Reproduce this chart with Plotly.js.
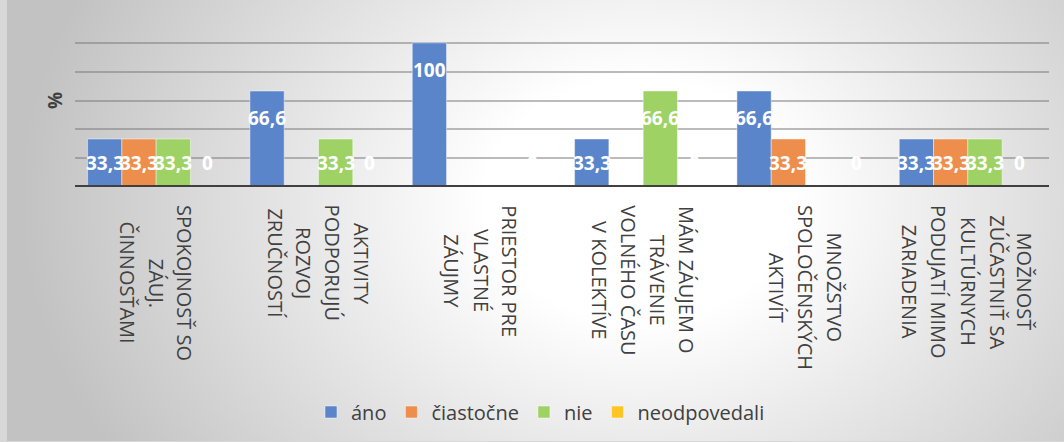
<!DOCTYPE html>
<html>
<head>
<meta charset="utf-8">
<script src="https://cdn.plot.ly/plotly-3.0.1.min.js"></script>
<style>
  html, body { margin: 0; padding: 0; width: 1064px; height: 442px; overflow: hidden; background: #d8d8d8; }
  #bg { position: absolute; left: 7px; top: 0; width: 1057px; height: 441px;
        background: radial-gradient(ellipse 620px 480px at 633px 200px, #ffffff 0%, #ffffff 25%, #c2c2c2 100%); }
  #chart { position: absolute; left: 0; top: 0; width: 1064px; height: 442px; }
</style>
</head>
<body>
<div id="bg"></div>
<div id="chart"></div>
<script>
// Category labels, one entry per printed line
const categoryLines = [
  ['SPOKOJNOSŤ SO', 'ZÁUJ.', 'ČINNOSŤAMI'],
  ['AKTIVITY', 'PODPORUJÚ', 'ROZVOJ', 'ZRUČNOSTÍ'],
  ['PRIESTOR PRE', 'VLASTNÉ', 'ZÁUJMY'],
  ['MÁM ZÁUJEM O', 'TRÁVENIE', 'VOLNÉHO ČASU', 'V KOLEKTÍVE'],
  ['MNOŽSTVO', 'SPOLOČENSKÝCH', 'AKTIVÍT'],
  ['MOŽNOSŤ', 'ZÚČASTNIŤ SA', 'KULTÚRNYCH', 'PODUJATÍ MIMO', 'ZARIADENIA']
];
const categories = categoryLines.map(lines => lines.join(' '));

// Answers in percent (null = no answer recorded)
const ano          = [33.3, 66.6, 100, 33.3, 66.6, 33.3];
const ciastocne    = [33.3, null, null, null, 33.3, 33.3];
const nie          = [33.3, 33.3, null, 66.6, null, 33.3];
const neodpovedali = [0, 0, 0, 0, 0, 0];

const seriesNames  = ['áno', 'čiastočne', 'nie', 'neodpovedali'];
const seriesValues = [ano, ciastocne, nie, neodpovedali];
const seriesColors = ['#5B85CA', '#EE8E4D', '#9ED265', '#FFC526'];

const yTicks = [0, 20, 40, 60, 80, 100, 120];

// Layout geometry
const W = 1064, H = 442;
const margin = { l: 75, r: 15, t: 14, b: 255 };
const plotW = W - margin.l - margin.r;
const plotH = H - margin.t - margin.b;
const BARGAP = 0.155;
const barPx = plotW / categories.length * (1 - BARGAP) / seriesValues.length;

const FONT = 'Open Sans, Noto Sans, sans-serif';
const TEXT_GRAY = '#404040';

// Data labels sit inside the bar end; short bars keep them at a common floor level
const LABEL_DROP = 18.5;
const LABEL_FLOOR = 16.7;
const labelY = v => Math.max(v - LABEL_DROP, LABEL_FLOOR);
const fmt = v => String(v).replace('.', ',');

const traces = seriesValues.map((vals, s) => ({
  type: 'bar',
  name: seriesNames[s],
  x: categories,
  y: vals,
  marker: { color: seriesColors[s], line: { color: 'rgba(255,255,255,0.45)', width: 1 } },
  hoverinfo: 'skip'
}));

const annotations = [];

// value labels
seriesValues.forEach((vals, s) => {
  vals.forEach((v, i) => {
    if (v === null) return;
    annotations.push({
      x: categories[i], xref: 'x',
      y: labelY(v), yref: 'y',
      xshift: (s - (seriesValues.length - 1) / 2) * barPx,
      text: fmt(v),
      showarrow: false,
      xanchor: 'center', yanchor: 'middle',
      font: { family: FONT, size: 19, color: '#ffffff', weight: 700 }
    });
  });
});

// rotated category labels, lines centred on the longest one
const ctx = document.createElement('canvas').getContext('2d');
const CAT_SIZE = 20;
ctx.font = CAT_SIZE + 'px "Open Sans"';
const LINE_PITCH = 28.8;
const catTop = -(203 - (margin.t + plotH)) / plotH;
categoryLines.forEach((lines, i) => {
  const widths = lines.map(t => ctx.measureText(t).width);
  const maxW = Math.max(...widths);
  lines.forEach((t, j) => {
    annotations.push({
      x: categories[i], xref: 'x',
      y: catTop, yref: 'paper',
      xanchor: 'center', yanchor: 'top',
      xshift: ((lines.length - 1) / 2 - j) * LINE_PITCH,
      yshift: -(maxW - widths[j]) / 2,
      textangle: 90,
      text: t,
      showarrow: false,
      font: { family: FONT, size: CAT_SIZE, color: TEXT_GRAY }
    });
  });
});

const layout = {
  width: W, height: H,
  margin: Object.assign({ autoexpand: false }, margin),
  paper_bgcolor: 'rgba(0,0,0,0)',
  plot_bgcolor: 'rgba(0,0,0,0)',
  barmode: 'group',
  bargap: BARGAP,
  bargroupgap: 0,
  font: { family: FONT, color: TEXT_GRAY },
  xaxis: {
    type: 'category', showticklabels: false, showgrid: false,
    zeroline: false, showline: false, ticks: '', fixedrange: true
  },
  yaxis: {
    range: [0, 120], tickvals: yTicks, showticklabels: false, ticks: '',
    showgrid: true, gridcolor: 'rgba(120,120,120,0.5)', gridwidth: 2,
    zeroline: false, showline: false, fixedrange: true,
    title: { text: '%', standoff: 6, font: { family: FONT, size: 19, color: TEXT_GRAY, weight: 700 } }
  },
  shapes: [{
    type: 'line', layer: 'above',
    xref: 'paper', x0: 0, x1: 1,
    yref: 'y', y0: 0, y1: 0,
    line: { color: '#404040', width: 4 }
  }],
  showlegend: true,
  legend: {
    orientation: 'h',
    x: (311 - margin.l) / plotW, xanchor: 'left',
    y: -(412 - (margin.t + plotH)) / plotH, yanchor: 'middle',
    font: { family: FONT, size: 20, color: TEXT_GRAY },
    bgcolor: 'rgba(0,0,0,0)', traceorder: 'normal'
  },
  annotations: annotations
};

Plotly.newPlot('chart', traces, layout, { displayModeBar: false, staticPlot: true });
</script>
</body>
</html>
